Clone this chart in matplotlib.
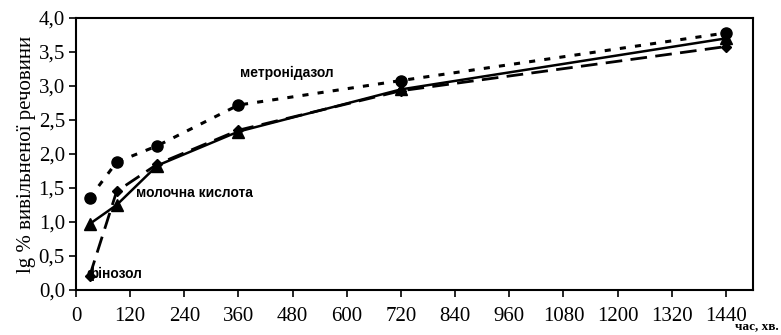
import matplotlib
matplotlib.use('Agg')
import matplotlib.pyplot as plt
from matplotlib.ticker import FuncFormatter

# час, хв.
Chas = [30, 90, 180, 360, 720, 1440]
Metronidazol = [1.35, 1.88, 2.12, 2.72, 3.08, 3.78]
Molochna = [0.97, 1.25, 1.83, 2.33, 2.95, 3.70]
Finozol = [0.20, 1.45, 1.85, 2.35, 2.93, 3.58]
Xticks = list(range(0, 1441, 120))
Yticks = [0, 0.5, 1.0, 1.5, 2.0, 2.5, 3.0, 3.5, 4.0]

serif = ['Liberation Serif', 'DejaVu Serif']
sans = ['Liberation Sans', 'DejaVu Sans']

fig = plt.figure(figsize=(7.81, 3.35), dpi=100)
ax = fig.add_axes([76/781, 1-290/335, (753-76)/781, (290-18)/335])

ax.plot(Chas, Metronidazol, color='k', lw=2.2, ls=(0, (2, 3)), marker='o', ms=8)
ax.plot(Chas, Molochna, color='k', lw=1.8, ls='-', marker='^', ms=8)
ax.plot(Chas, Finozol, color='k', lw=2.0, ls=(0, (6, 3)), marker='D', ms=5)

ax.set_xlim(0, 1500)
ax.set_ylim(0, 4.0)
ax.set_xticks(Xticks)
ax.set_yticks(Yticks)
ax.yaxis.set_major_formatter(FuncFormatter(lambda v, p: ('%.1f' % v).replace('.', ',')))
ax.tick_params(direction='out', length=5, width=1.2, labelsize=15, pad=7)
for lab in ax.get_xticklabels() + ax.get_yticklabels():
    lab.set_family(serif)
ax.tick_params(axis='y', pad=3)
for s in ax.spines.values():
    s.set_linewidth(1.5)

ax.set_ylabel('lg % вивільненої речовини', family=serif, fontsize=15, labelpad=2)
fig.text(779/781, 1-326/335, 'час, хв.', family=serif, fontsize=9.5, fontweight='bold',
         va='center', ha='right')

ax.text(363, 3.13, 'метронідазол', family=sans, fontsize=10, fontweight='bold')
ax.text(132, 1.43, 'молочна кислота', family=sans, fontsize=10, fontweight='bold', va='center')
ax.text(24, 0.23, 'фінозол', family=sans, fontsize=10, fontweight='bold', va='center')

fig.savefig('out.png', dpi=100)
